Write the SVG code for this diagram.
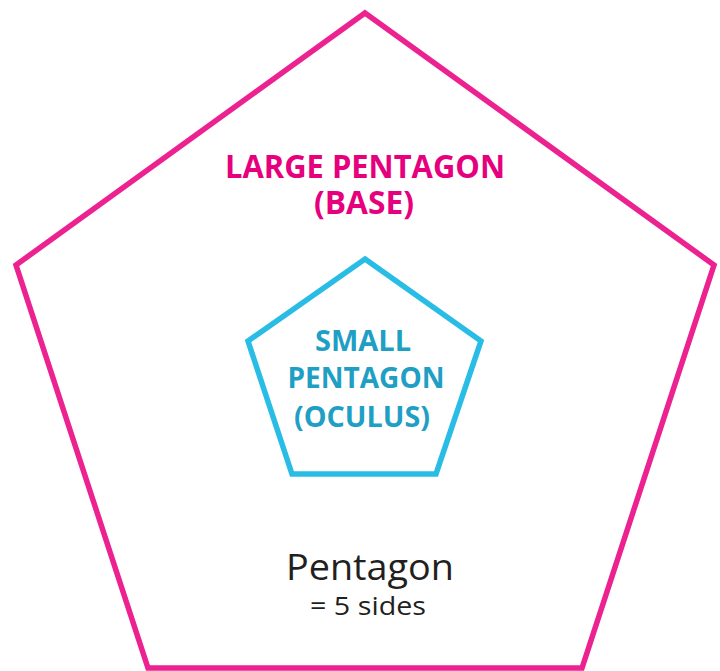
<svg xmlns="http://www.w3.org/2000/svg" width="720" height="671" viewBox="0 0 720 671">
<style>
.large{fill:none;stroke:#ec2290;stroke-width:5.5;stroke-linejoin:miter}
.small{fill:none;stroke:#29bde6;stroke-width:5.5;stroke-linejoin:miter}
.lt{font-family:"Open Sans","Liberation Sans",sans-serif;font-weight:bold;fill:#e6007e;font-size:32px;text-anchor:middle}
.st{font-family:"Open Sans","Liberation Sans",sans-serif;font-weight:bold;fill:#1f9fc4;font-size:28px;text-anchor:middle}
.bt{font-family:"Open Sans","Liberation Sans",sans-serif;fill:#231f20;text-anchor:middle}
</style>
<rect width="720" height="671" fill="#fff"/>
<g id="large-pentagon">
<polygon class="large" points="365,13 714,265 582,668 148,668 16,265"/>
<text class="lt" x="365" y="178" textLength="280" lengthAdjust="spacingAndGlyphs">LARGE PENTAGON</text>
<text class="lt" x="364" y="214" textLength="100" lengthAdjust="spacingAndGlyphs">(BASE)</text>
</g>
<g id="small-pentagon">
<polygon class="small" points="365,259 481,341 436,474 292,474 248,341"/>
<text class="st" x="363" y="351" textLength="96" lengthAdjust="spacingAndGlyphs">SMALL</text>
<text class="st" x="366" y="388" textLength="157" lengthAdjust="spacingAndGlyphs">PENTAGON</text>
<text class="st" x="362" y="427" textLength="136" lengthAdjust="spacingAndGlyphs">(OCULUS)</text>
</g>
<g id="label">
<text class="bt" x="370" y="580" font-size="36" textLength="168" lengthAdjust="spacingAndGlyphs">Pentagon</text>
<text class="bt" x="368" y="615" font-size="25" textLength="116" lengthAdjust="spacingAndGlyphs">= 5 sides</text>
</g>
<g id="connectors"></g>
</svg>
